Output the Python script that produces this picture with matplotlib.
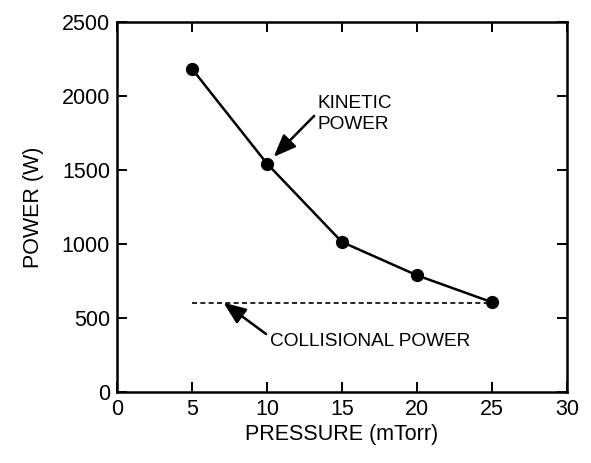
import numpy as np
import matplotlib.pyplot as plt

plt.rcParams['font.family'] = ['Liberation Sans', 'DejaVu Sans']

pressure = [5, 10, 15, 20, 25]
kinetic_power = [2185, 1545, 1015, 790, 608]
collisional_power = 605
collisional_range = [5, 25]

fig, ax = plt.subplots(figsize=(5.91, 4.63), dpi=100)
fig.subplots_adjust(left=0.198, right=0.959, top=0.952, bottom=0.153)

ax.plot(pressure, kinetic_power, color='black', lw=1.8, marker='o', ms=8.5)
ax.plot(collisional_range, [collisional_power] * 2, color='black', lw=1.2,
        linestyle=(0, (3, 2)))

ax.set_xlim(0, 30)
ax.set_ylim(0, 2500)
ax.set_xticks(np.arange(0, 31, 5))
ax.set_yticks(np.arange(0, 2501, 500))
ax.tick_params(direction='in', top=True, right=True, length=7, width=1.4,
               labelsize=15.5, pad=5)
for s in ax.spines.values():
    s.set_linewidth(1.8)

ax.set_xlabel('PRESSURE (mTorr)', fontsize=15.5, labelpad=3)
ax.set_ylabel('POWER (W)', fontsize=15.5, labelpad=13)

arrow = dict(arrowstyle='-|>,head_length=1.0,head_width=0.4', color='black',
             lw=1.8, shrinkA=1, shrinkB=0)
ax.annotate('KINETIC\nPOWER', xy=(10.45, 1590), xytext=(13.4, 1880),
            fontsize=13.7, ha='left', va='center', linespacing=1.3,
            arrowprops=dict(arrow, relpos=(0, 0.55)))
ax.annotate('COLLISIONAL POWER', xy=(7.1, 605), xytext=(10.2, 345),
            fontsize=13.7, ha='left', va='center',
            arrowprops=dict(arrow, relpos=(0, 0.75)))

fig.savefig('out.png', dpi=100)
